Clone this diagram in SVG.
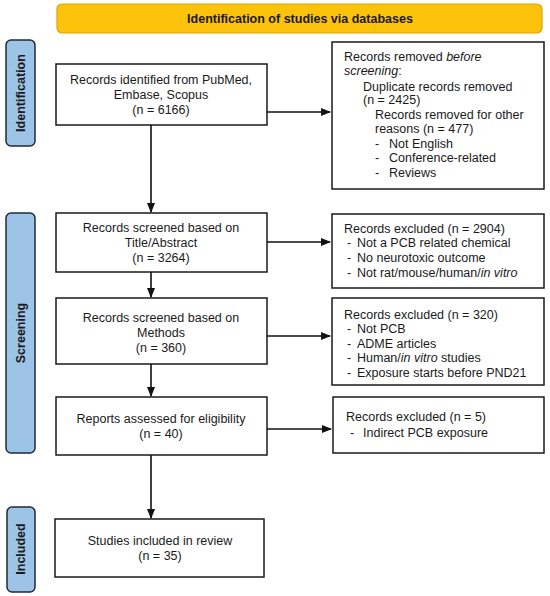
<svg xmlns="http://www.w3.org/2000/svg" width="550" height="596" viewBox="0 0 550 596">
<defs>
<marker id="ah" markerWidth="10" markerHeight="8" refX="9" refY="4" orient="auto" markerUnits="userSpaceOnUse">
<path d="M0,0 L10,4 L0,8 Z" fill="#111"/>
</marker>
<style>
text{font-family:"Liberation Sans",Arial,sans-serif;font-size:12.5px;fill:#1a1a1a}
.c{text-anchor:middle}
.b{font-weight:bold}
.box{fill:#fff;stroke:#1a1a1a;stroke-width:1.5}
.side{fill:#9dc3e6;stroke:#1f2a3a;stroke-width:1.5}
.ban{fill:#fdc20b;stroke:#d9a800;stroke-width:1.2}
.con{stroke:#111;stroke-width:1.6;fill:none}
</style>
</defs>
<rect width="550" height="596" fill="#fff"/>

<g id="banner">
<rect class="ban" x="57" y="4" width="485" height="29" rx="5"/>
<text class="c b" x="300" y="23">Identification of studies via databases</text>
</g>

<g id="side-identification">
<rect class="side" x="6" y="40" width="29" height="106" rx="5"/>
<text class="c b" transform="translate(25,93) rotate(-90)">Identification</text>
</g>
<g id="side-screening">
<rect class="side" x="6" y="213" width="29" height="240" rx="5"/>
<text class="c b" transform="translate(25,333) rotate(-90)">Screening</text>
</g>
<g id="side-included">
<rect class="side" x="7" y="507" width="28" height="85" rx="5"/>
<text class="c b" transform="translate(25,549) rotate(-90)">Included</text>
</g>

<g id="identified">
<rect class="box" x="56" y="64" width="211" height="61"/>
<text class="c" x="161" y="84">Records identified from PubMed,</text>
<text class="c" x="161" y="99">Embase, Scopus</text>
<text class="c" x="161" y="114">(n = 6166)</text>
</g>

<g id="removed">
<rect class="box" x="332" y="42" width="212" height="147"/>
<text x="344" y="61">Records removed <tspan font-style="italic">before</tspan></text>
<text x="344" y="75"><tspan font-style="italic">screening</tspan>:</text>
<text x="363" y="91">Duplicate records removed</text>
<text x="363" y="104">(n = 2425)</text>
<text x="375" y="119">Records removed for other</text>
<text x="375" y="133">reasons (n = 477)</text>
<text x="375" y="148">-</text><text x="389" y="148">Not English</text>
<text x="375" y="162">-</text><text x="389" y="162">Conference-related</text>
<text x="375" y="177">-</text><text x="389" y="177">Reviews</text>
</g>

<g id="screened-title">
<rect class="box" x="56" y="213" width="211" height="59"/>
<text class="c" x="161" y="232">Records screened based on</text>
<text class="c" x="161" y="247">Title/Abstract</text>
<text class="c" x="161" y="262">(n = 3264)</text>
</g>

<g id="excluded-2904">
<rect class="box" x="332" y="214" width="212" height="74"/>
<text x="344" y="233">Records excluded (n = 2904)</text>
<text x="347" y="247">-</text><text x="357" y="247">Not a PCB related chemical</text>
<text x="347" y="262">-</text><text x="357" y="262">No neurotoxic outcome</text>
<text x="347" y="277">-</text><text x="357" y="277">Not rat/mouse/human/<tspan font-style="italic">in vitro</tspan></text>
</g>

<g id="screened-methods">
<rect class="box" x="56" y="298" width="211" height="66"/>
<text class="c" x="161" y="322">Records screened based on</text>
<text class="c" x="161" y="337">Methods</text>
<text class="c" x="161" y="352">(n = 360)</text>
</g>

<g id="excluded-320">
<rect class="box" x="332" y="298" width="212" height="87"/>
<text x="344" y="319">Records excluded (n = 320)</text>
<text x="347" y="333">-</text><text x="357" y="333">Not PCB</text>
<text x="347" y="348">-</text><text x="357" y="348">ADME articles</text>
<text x="347" y="362">-</text><text x="357" y="362">Human/<tspan font-style="italic">in vitro</tspan> studies</text>
<text x="347" y="377">-</text><text x="357" y="377">Exposure starts before PND21</text>
</g>

<g id="assessed">
<rect class="box" x="56" y="397" width="211" height="58"/>
<text class="c" x="161" y="423">Reports assessed for eligibility</text>
<text class="c" x="161" y="438">(n = 40)</text>
</g>

<g id="excluded-5">
<rect class="box" x="333" y="397" width="211" height="56"/>
<text x="346" y="421">Records excluded (n = 5)</text>
<text x="350" y="437">-</text><text x="363" y="437">Indirect PCB exposure</text>
</g>

<g id="included">
<rect class="box" x="55" y="519" width="209" height="58"/>
<text class="c" x="160" y="545">Studies included in review</text>
<text class="c" x="160" y="560">(n = 35)</text>
</g>

<g id="connectors">
<line class="con" x1="267" y1="112" x2="330" y2="112" marker-end="url(#ah)"/>
<line class="con" x1="151" y1="125" x2="151" y2="212" marker-end="url(#ah)"/>
<line class="con" x1="267" y1="242" x2="330" y2="242" marker-end="url(#ah)"/>
<line class="con" x1="151" y1="272" x2="151" y2="297" marker-end="url(#ah)"/>
<line class="con" x1="267" y1="336" x2="330" y2="336" marker-end="url(#ah)"/>
<line class="con" x1="151" y1="364" x2="151" y2="396" marker-end="url(#ah)"/>
<line class="con" x1="267" y1="429" x2="331" y2="429" marker-end="url(#ah)"/>
<line class="con" x1="151" y1="455" x2="151" y2="518" marker-end="url(#ah)"/>
</g>
</svg>
